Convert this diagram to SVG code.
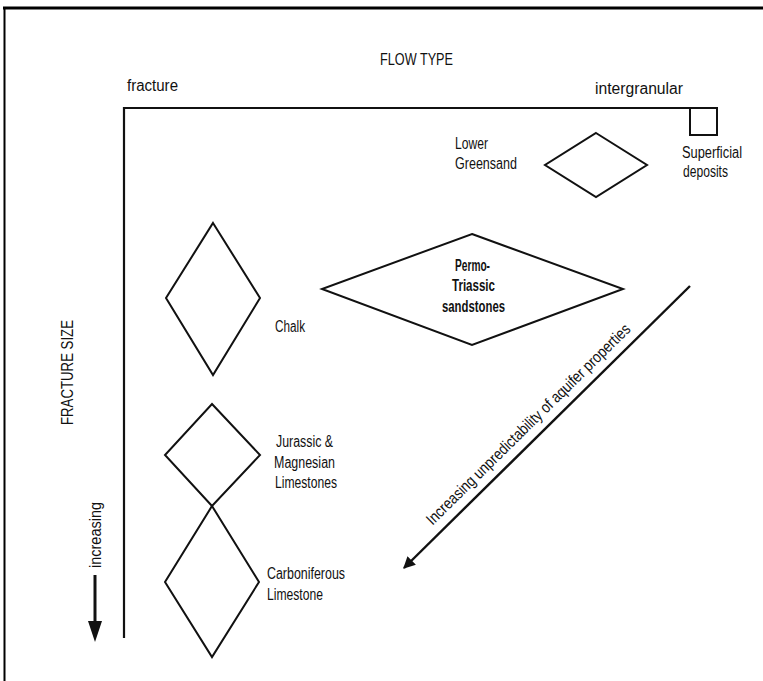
<svg xmlns="http://www.w3.org/2000/svg" width="763" height="681" viewBox="0 0 763 681">
<defs>
<style>
.t{font-family:"Liberation Sans Narrow","Liberation Sans",Arial,sans-serif;fill:#111;font-size:16px}
.b{font-weight:bold}
.d{fill:none;stroke:#111;stroke-width:2;stroke-linejoin:miter}
.ax{fill:none;stroke:#111;stroke-width:2.2}
</style>
<marker id="ah" viewBox="0 0 10 10" refX="9" refY="5" markerWidth="5" markerHeight="5" markerUnits="strokeWidth" orient="auto">
<path d="M0,0 L10,5 L0,10 Z" fill="#111"/>
</marker>
</defs>
<rect width="763" height="681" fill="#fff"/>
<g id="frame">
<line x1="3" y1="8" x2="763" y2="8" stroke="#000" stroke-width="3"/>
<line x1="4.5" y1="7" x2="4.5" y2="681" stroke="#000" stroke-width="2"/>
</g>
<g id="axes">
<polyline class="ax" points="124,638 124,108 717,108"/>
<text class="t" x="380" y="65" font-size="20" textLength="73" lengthAdjust="spacingAndGlyphs">FLOW TYPE</text>
<text class="t" x="127" y="91" font-size="17" textLength="51" lengthAdjust="spacingAndGlyphs">fracture</text>
<text class="t" x="595" y="94" font-size="17" textLength="88" lengthAdjust="spacingAndGlyphs">intergranular</text>
<text class="t" transform="translate(73,425) rotate(-90)" font-size="21" textLength="105" lengthAdjust="spacingAndGlyphs">FRACTURE SIZE</text>
<text class="t" transform="translate(101,568) rotate(-90)" font-size="17" textLength="66" lengthAdjust="spacingAndGlyphs">increasing</text>
</g>
<g id="superficial">
<rect class="d" x="690" y="108" width="27" height="27"/>
<text class="t" x="682" y="158" textLength="60" lengthAdjust="spacingAndGlyphs">Superficial</text>
<text class="t" x="683" y="177" textLength="45" lengthAdjust="spacingAndGlyphs">deposits</text>
</g>
<g id="lower-greensand">
<polygon class="d" points="596,133 647,165 596,197 545,165"/>
<text class="t" x="455" y="149" textLength="33" lengthAdjust="spacingAndGlyphs">Lower</text>
<text class="t" x="455" y="169" textLength="62" lengthAdjust="spacingAndGlyphs">Greensand</text>
</g>
<g id="permo-triassic">
<polygon class="d" points="472,234 623,289 472,345 322,289"/>
<text class="t b" x="455" y="271" textLength="35" lengthAdjust="spacingAndGlyphs">Permo-</text>
<text class="t b" x="452" y="291" textLength="43" lengthAdjust="spacingAndGlyphs">Triassic</text>
<text class="t b" x="442" y="312" textLength="63" lengthAdjust="spacingAndGlyphs">sandstones</text>
</g>
<g id="chalk">
<polygon class="d" points="213,223 260,298 213,375 166,298"/>
<text class="t" x="275" y="332" textLength="30" lengthAdjust="spacingAndGlyphs">Chalk</text>
</g>
<g id="jurassic">
<polygon class="d" points="212,404 260,455 212,506 165,455"/>
<text class="t" x="276" y="447" textLength="57" lengthAdjust="spacingAndGlyphs">Jurassic &amp;</text>
<text class="t" x="274" y="468" textLength="61" lengthAdjust="spacingAndGlyphs">Magnesian</text>
<text class="t" x="275" y="488" textLength="62" lengthAdjust="spacingAndGlyphs">Limestones</text>
</g>
<g id="carboniferous">
<polygon class="d" points="212,506 259,582 212,657 165,582"/>
<text class="t" x="267" y="579" textLength="78" lengthAdjust="spacingAndGlyphs">Carboniferous</text>
<text class="t" x="267" y="600" textLength="56" lengthAdjust="spacingAndGlyphs">Limestone</text>
</g>
<g id="connectors">
<line x1="690" y1="286" x2="404" y2="568" stroke="#111" stroke-width="2.4" marker-end="url(#ah)"/>
<text class="t" transform="translate(532,428) rotate(-44.5)" text-anchor="middle" font-size="15" textLength="279" lengthAdjust="spacingAndGlyphs">Increasing unpredictability of aquifer properties</text>
<line x1="95" y1="575" x2="95" y2="624" stroke="#111" stroke-width="3"/>
<polygon points="88,621 102,621 95,642" fill="#111"/>
</g>
</svg>
